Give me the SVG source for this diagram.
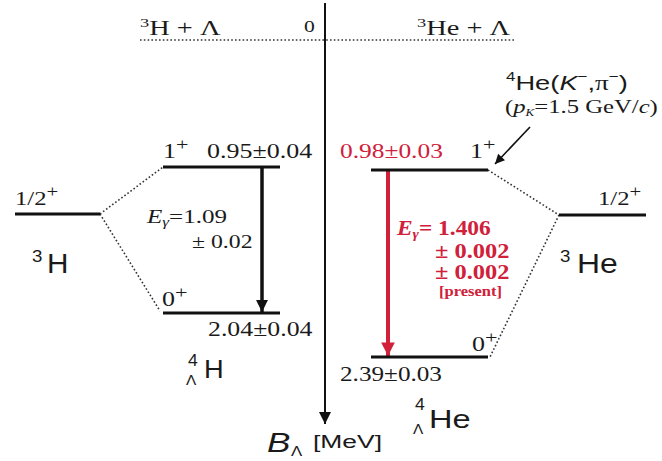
<svg xmlns="http://www.w3.org/2000/svg" width="662" height="461" viewBox="0 0 662 461">
<defs>
<style>
.s{font-family:"Liberation Serif","Times New Roman",serif;fill:#1a1a1a}
.a{font-family:"Liberation Sans",Arial,sans-serif;fill:#1a1a1a}
.r{fill:#d0203a}
.lvl{stroke:#111;stroke-width:3;fill:none}
.dot{stroke:#333;stroke-width:1.6;stroke-dasharray:1.6 2.2;fill:none}
</style>
<marker id="ah" viewBox="0 0 10 10" refX="10" refY="5" markerWidth="3.4" markerHeight="5" orient="auto" markerUnits="strokeWidth"><path d="M0,0 L10,5 L0,10 z" fill="#111"/></marker>
<marker id="ahr" viewBox="0 0 10 10" refX="10" refY="5" markerWidth="4" markerHeight="3.4" orient="auto" markerUnits="strokeWidth"><path d="M0,0 L10,5 L0,10 z" fill="#d0203a"/></marker>
<marker id="ahs" viewBox="0 0 10 10" refX="10" refY="5" markerWidth="7" markerHeight="6" orient="auto" markerUnits="strokeWidth"><path d="M0,0 L10,5 L0,10 z" fill="#111"/></marker>
</defs>
<rect width="662" height="461" fill="#fff"/>

<g id="connectors">
<line x1="140" y1="40" x2="515" y2="40" class="dot" stroke-width="2" stroke-dasharray="1.4 1.4"/>
<line x1="325" y1="3" x2="325" y2="424" stroke="#111" stroke-width="2" marker-end="url(#ahs)"/>
<line x1="100" y1="214" x2="163" y2="167" class="dot"/>
<line x1="100" y1="214" x2="160" y2="311" class="dot"/>
<line x1="488" y1="170" x2="559" y2="215" class="dot"/>
<line x1="559" y1="215" x2="490" y2="357" class="dot"/>
<line x1="262" y1="167" x2="262" y2="312" stroke="#111" stroke-width="3.5" marker-end="url(#ah)"/>
<line x1="388" y1="171" x2="388" y2="356" stroke="#d0203a" stroke-width="4" marker-end="url(#ahr)"/>
<line x1="530" y1="127" x2="495" y2="164" stroke="#111" stroke-width="1.6" marker-end="url(#ahs)"/>
</g>

<g id="threshold">
<text class="s" transform="translate(140,35) scale(1.42,1)" font-size="20"><tspan font-size="13" dy="-8">3</tspan><tspan dy="8">H + Λ</tspan></text>
<text class="s" transform="translate(304,32) scale(1.35,1)" font-size="16">0</text>
<text class="s" transform="translate(417,35) scale(1.42,1)" font-size="20"><tspan font-size="13" dy="-8">3</tspan><tspan dy="8">He + Λ</tspan></text>
</g>

<g id="H3">
<line x1="15" y1="214" x2="100" y2="214" class="lvl"/>
<text class="s" transform="translate(15,205) scale(1.3,1)" font-size="19">1/2<tspan font-size="16" dy="-8">+</tspan></text>
<text class="a" transform="translate(32,262) scale(1.1,1)" font-size="17">3</text>
<text class="a" transform="translate(47,273) scale(1.1,1)" font-size="27">H</text>
</g>

<g id="H4L-1plus">
<line x1="163" y1="167" x2="280" y2="167" class="lvl"/>
<text class="s" transform="translate(163,158) scale(1.3,1)" font-size="20">1<tspan font-size="17" dy="-8">+</tspan></text>
<text class="s" transform="translate(207,158) scale(1.3,1)" font-size="20">0.95±0.04</text>
</g>

<g id="H4L-gamma">
<text class="s" transform="translate(147,223) scale(1.32,1)" font-size="19"><tspan font-style="italic">E</tspan><tspan font-style="italic" font-size="13" dy="3">γ</tspan><tspan dy="-3">=1.09</tspan></text>
<text class="s" transform="translate(192,248) scale(1.25,1)" font-size="19">± 0.02</text>
</g>

<g id="H4L-0plus">
<line x1="163" y1="313" x2="280" y2="313" class="lvl"/>
<text class="s" transform="translate(162,306) scale(1.3,1)" font-size="20">0<tspan font-size="17" dy="-8">+</tspan></text>
<text class="s" transform="translate(208,336) scale(1.29,1)" font-size="20">2.04±0.04</text>
</g>

<g id="H4L-label">
<text class="a" transform="translate(188,366) scale(1.1,1)" font-size="16">4</text>
<text class="a" transform="translate(186,385) scale(1.1,1)" font-size="14">Λ</text>
<text class="a" transform="translate(204,378) scale(1.05,1)" font-size="26">H</text>
</g>

<g id="axis-label">
<text class="a" transform="translate(267,452) scale(1.3,1)" font-size="27" font-style="italic">B</text>
<text class="a" transform="translate(291,456) scale(1.2,1)" font-size="14">Λ</text>
<text class="a" transform="translate(313,448) scale(1.47,1)" font-size="18">[MeV]</text>
</g>

<g id="He4L-1plus">
<line x1="371" y1="170" x2="488" y2="170" class="lvl"/>
<text class="s r" transform="translate(340,158) scale(1.27,1)" font-size="20">0.98±0.03</text>
<text class="s" transform="translate(470,158) scale(1.3,1)" font-size="20">1<tspan font-size="17" dy="-8">+</tspan></text>
</g>

<g id="He4L-gamma" font-weight="bold">
<text class="s r" transform="translate(397,235) scale(1.17,1)" font-size="20"><tspan font-style="italic">E</tspan><tspan font-style="italic" font-size="13" dy="3">γ</tspan><tspan dy="-3">= 1.406</tspan></text>
<text class="s r" transform="translate(435,258) scale(1.22,1)" font-size="20">± 0.002</text>
<text class="s r" transform="translate(435,279) scale(1.22,1)" font-size="20">± 0.002</text>
<text class="s r" transform="translate(439,296) scale(1.18,1)" font-size="14">[present]</text>
</g>

<g id="He4L-0plus">
<line x1="371" y1="357" x2="488" y2="357" class="lvl"/>
<text class="s" transform="translate(472,351) scale(1.3,1)" font-size="20">0<tspan font-size="17" dy="-8">+</tspan></text>
<text class="s" transform="translate(340,381) scale(1.26,1)" font-size="20">2.39±0.03</text>
</g>

<g id="He4L-label">
<text class="a" transform="translate(415,410) scale(1.1,1)" font-size="16">4</text>
<text class="a" transform="translate(413,434) scale(1.1,1)" font-size="14">Λ</text>
<text class="a" transform="translate(429,428) scale(1.25,1)" font-size="26">He</text>
</g>

<g id="He3">
<line x1="559" y1="215" x2="646" y2="215" class="lvl"/>
<text class="s" transform="translate(598,205) scale(1.3,1)" font-size="19">1/2<tspan font-size="16" dy="-8">+</tspan></text>
<text class="a" transform="translate(560,262) scale(1.1,1)" font-size="17">3</text>
<text class="a" transform="translate(577,273) scale(1.14,1)" font-size="28">He</text>
</g>

<g id="reaction">
<text class="a" transform="translate(506,90) scale(1.3,1)" font-size="21"><tspan font-size="13" dy="-9">4</tspan><tspan dy="9">He(</tspan><tspan font-style="italic">K</tspan><tspan font-size="13" dy="-9">−</tspan><tspan dy="9">,</tspan><tspan class="s">π</tspan><tspan font-size="13" dy="-9">−</tspan><tspan dy="9">)</tspan></text>
<text class="s" transform="translate(505,113) scale(1.3,1)" font-size="19">(<tspan font-style="italic">p</tspan><tspan font-style="italic" font-size="10" dy="3">K</tspan><tspan dy="-3">=1.5 GeV/</tspan><tspan font-style="italic">c</tspan>)</text>
</g>
</svg>
